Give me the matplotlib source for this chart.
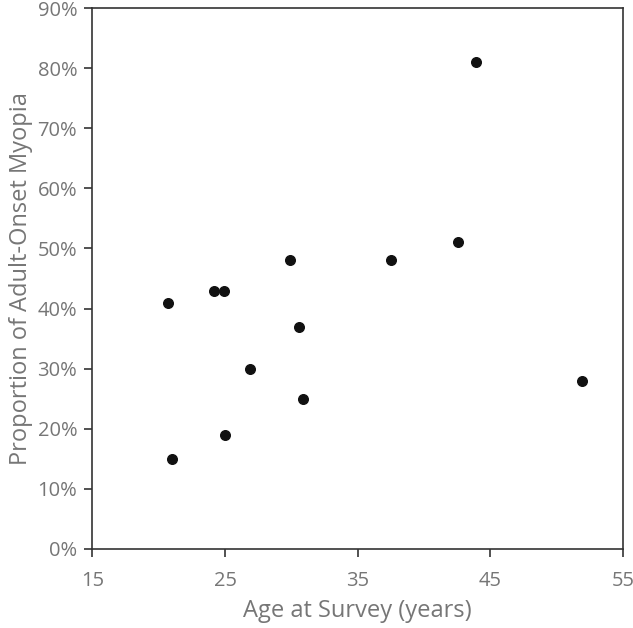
import matplotlib
matplotlib.use('Agg')
import matplotlib.pyplot as plt
from matplotlib.ticker import FuncFormatter

age = [20.7, 21.0, 24.2, 24.9, 25.0, 26.9, 29.9, 30.6, 30.9, 37.5, 42.6, 43.9, 51.9]
proportion = [0.41, 0.15, 0.43, 0.43, 0.19, 0.30, 0.48, 0.37, 0.25, 0.48, 0.51, 0.81, 0.28]

grey = '#767676'
plt.rcParams['font.family'] = ['Open Sans', 'DejaVu Sans']

fig = plt.figure(figsize=(6.33, 6.28), dpi=100)
ax = fig.add_axes([0.146, 0.126, 0.838, 0.861])
ax.scatter(age, proportion, s=48, color='#111111', zorder=3)

ax.set_xlim(15, 55)
ax.set_ylim(0, 0.9)
ax.set_xticks([15, 25, 35, 45, 55])
ax.set_yticks([i / 10 for i in range(10)])
ax.yaxis.set_major_formatter(FuncFormatter(lambda v, p: f"{round(v * 100)}%"))

for s in ax.spines.values():
    s.set_color('#333333')
    s.set_linewidth(1.2)
ax.tick_params(direction='out', length=6, width=1.2, color='#333333',
               labelcolor=grey, labelsize=14.5)
ax.tick_params(axis='x', pad=10)
ax.tick_params(axis='y', pad=5)

ax.set_xlabel("Age at Survey (years)", color=grey, fontsize=17, labelpad=6)
ax.set_ylabel("Proportion of Adult-Onset Myopia", color=grey, fontsize=17, labelpad=3)

fig.savefig("out.png", dpi=100)
plt.close(fig)
